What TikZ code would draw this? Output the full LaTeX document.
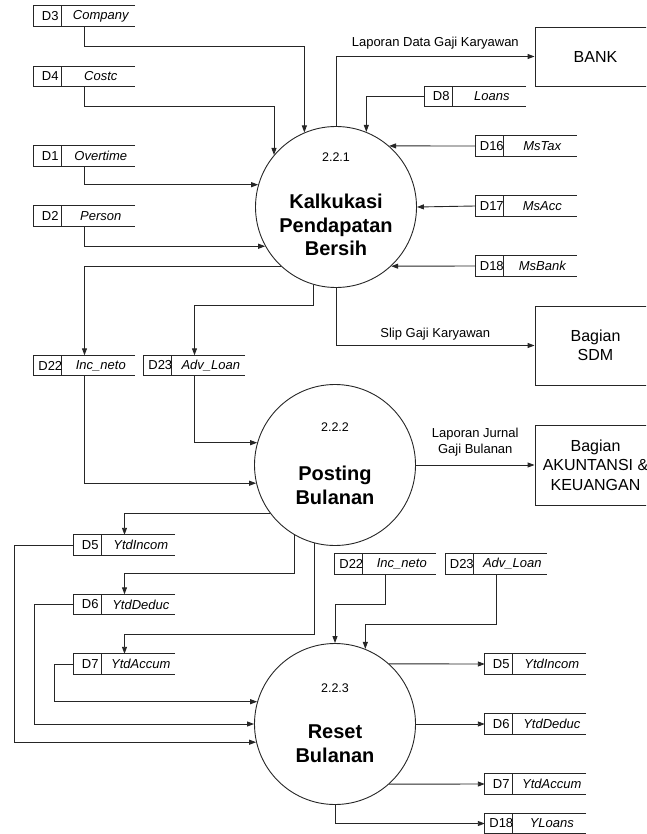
\documentclass[tikz,border=0pt]{standalone}
\usepackage{fontspec}
\setmainfont{Liberation Sans}
\usetikzlibrary{arrows.meta}

\tikzset{
  wire/.style={draw=black!85, line width=0.9pt},
  flow/.style={wire, -{Triangle[length=7pt,width=5pt]}},
  proc/.style={circle, draw=black!85, line width=0.9pt, minimum size=161pt, inner sep=0pt},
  procnum/.style={font=\fontsize{12.5}{14}\selectfont, inner sep=0pt},
  proctitle/.style={font=\fontsize{20}{23.5}\selectfont\bfseries, align=center, inner sep=0pt},
  entity/.style={rectangle, draw=black!85, line width=0.9pt, minimum width=121pt,
    inner sep=0pt, font=\fontsize{16}{19.5}\selectfont, align=center},
  storebox/.style={rectangle, minimum width=101pt, minimum height=20pt, inner sep=0pt},
  storeid/.style={font=\fontsize{13}{15}\selectfont, inner sep=0pt},
  storename/.style={font=\fontsize{13}{15}\selectfont\itshape, inner sep=0pt},
  flowlabel/.style={font=\fontsize{13}{16}\selectfont, align=center, inner sep=0pt},
}

% data store: open-ended box with an id cell
% #1 node name, #2 centre, #3 id, #4 store name
\newcommand\datastore[4]{%
  \node[storebox] (#1) at (#2) {};
  \draw[wire] (#1.north east) -- (#1.north west) -- (#1.south west) -- (#1.south east);
  \draw[wire] ([xshift=28pt]#1.north west) -- ([xshift=28pt]#1.south west);
  \node[storeid] (#1-id) at ([xshift=16.5pt]#1.west) {#3};
  \node[storename] (#1-name) at ([xshift=67pt]#1.west) {#4};
}

\begin{document}
\begin{tikzpicture}[x=1pt, y=-1pt]
\useasboundingbox (0,0) rectangle (646,834);
\clip (0,0) rectangle (646,834);

% ---------- processes ----------
\node[proc] (c1) at (336,207) {};
\node[procnum] (c1-num) at (336,157) {2.2.1};
\node[proctitle] (c1-title) at (336,225) {Kalkukasi\\Pendapatan\\Bersih};

\node[proc] (c2) at (335,465) {};
\node[procnum] (c2-num) at (335,427.5) {2.2.2};
\node[proctitle] (c2-title) at (335,485.5) {Posting\\Bulanan};

\node[proc] (c3) at (335,724) {};
\node[procnum] (c3-num) at (335,688) {2.2.3};
\node[proctitle] (c3-title) at (335,743.5) {Reset\\Bulanan};

% ---------- external entities ----------
\node[entity, minimum height=59pt] (bank) at (595.5,56.5) {BANK};
\node[entity, minimum height=79pt] (sdm) at (595.5,345.5) {Bagian\\SDM};
\node[entity, minimum height=80pt] (aku) at (595.5,465) {Bagian\\AKUNTANSI \&\\KEUANGAN};

% ---------- data stores ----------
\datastore{d3}{84.5,16}{D3}{Company}
\datastore{d4}{84.5,76.5}{D4}{Costc}
\datastore{d1}{84.5,156}{D1}{Overtime}
\datastore{d2}{84.5,216}{D2}{Person}
\datastore{d8}{475.5,96.5}{D8}{Loans}
\datastore{d16}{526,146}{D16}{MsTax}
\datastore{d17}{526,206}{D17}{MsAcc}
\datastore{d18}{526,266}{D18}{MsBank}
\datastore{d22a}{84.5,365.5}{D22}{Inc\_neto}
\datastore{d23a}{194.5,365.5}{D23}{Adv\_Loan}
\datastore{d5a}{124.5,545}{D5}{YtdIncom}
\datastore{d6a}{124.5,604.5}{D6}{YtdDeduc}
\datastore{d7a}{124.5,664}{D7}{YtdAccum}
\datastore{d22b}{385.5,564}{D22}{Inc\_neto}
\datastore{d23b}{496,564}{D23}{Adv\_Loan}
\datastore{d5b}{535.5,664}{D5}{YtdIncom}
\datastore{d6b}{535.5,724}{D6}{YtdDeduc}
\datastore{d7b}{535.5,784}{D7}{YtdAccum}
\datastore{d18b}{535.5,823.5}{D18}{YLoans}

% ---------- flows into 2.2.1 ----------
\draw[flow] (d3.south) |- (c1.113.6 |- 0,46) -- (c1.113.6);
\draw[flow] (d4.south) |- (c1.140.8 |- 0,106) -- (c1.140.8);
\draw[flow] (d1.south) |- (c1.164.8);
\draw[flow] (d2.south) |- (c1.209.2);
\draw[flow] (d8.west) -| (c1.68.75);
\draw[flow] (d16.west) -- (c1.49.7);
\draw[flow] (d17.west) -- (c1.0.7);
\draw[flow] (d18.west) -- (c1.-47.5);

% ---------- flows out of 2.2.1 ----------
\draw[flow] (c1.north) |- (bank.west)
  node[flowlabel, pos=0.75, above=7pt] (lbl-bank) {Laporan Data Gaji Karyawan};
\draw[flow] (c1.south) |- (sdm.west)
  node[flowlabel, pos=0.75, above=5pt] (lbl-sdm) {Slip Gaji Karyawan};
\draw[flow] (c1.227.5) -| (d22a.north);
\draw[flow] (c1.254.8) -- (c1.254.8 |- 0,305) -| (d23a.north);

% ---------- flows into / out of 2.2.2 ----------
\draw[flow] (d23a.south) |- (c2.164.8);
\draw[flow] (d22a.south) |- (c2.193.7);
\draw[flow] (c2.east) -- (aku.west)
  node[flowlabel, midway, above=8pt] (lbl-aku) {Laporan Jurnal\\Gaji Bulanan};
\draw[flow] (c2.217.8) -| (d5a.north);
\draw[flow] (c2.240) -- (c2.240 |- 0,573) -| (d6a.north);
\draw[flow] (c2.255.5) -- (c2.255.5 |- 0,634) -| (d7a.north);

% ---------- flows into 2.2.3 ----------
\draw[flow] (d5a.west) -- (14,0 |- d5a.west) |- (c3.193.7);
\draw[flow] (d6a.west) -- (34,0 |- d6a.west) |- (c3.west);
\draw[flow] (d7a.west) -- (54,0 |- d7a.west) |- (c3.164.8);
\draw[flow] (d22b.south) -- (d22b.south |- 0,604) -| (c3.north);
\draw[flow] (d23b.south) -- (d23b.south |- 0,624) -| (c3.68);

% ---------- flows out of 2.2.3 ----------
\draw[flow] (c3.48.6) -- (d5b.west);
\draw[flow] (c3.east) -- (d6b.west);
\draw[flow] (c3.-48.6) -- (d7b.west);
\draw[flow] (c3.south) |- (d18b.west);
\end{tikzpicture}
\end{document}
